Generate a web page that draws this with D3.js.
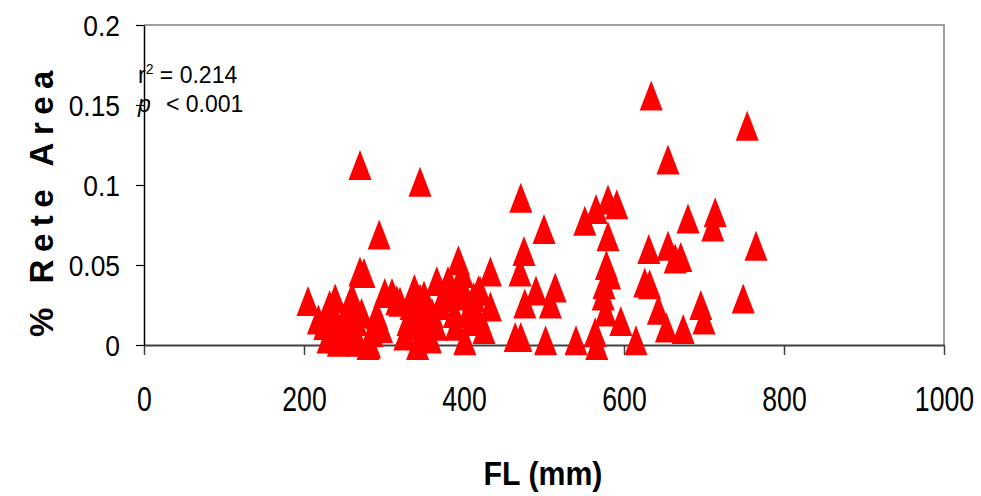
<!DOCTYPE html>
<html>
<head>
<script src="https://cdnjs.cloudflare.com/ajax/libs/d3/7.8.5/d3.min.js"></script>
<style>
  body { margin: 0; background: #fff; }
  svg { display: block; }
  .axis text { font-family: "Liberation Sans", Arial, sans-serif; fill: #000; }
</style>
</head>
<body>
<svg width="981" height="496"></svg>
<script>
// fork length (mm) and % rete area, one entry per fish
const flValues = [
  205, 218, 226, 230, 232, 235, 239, 243, 245, 250, 251, 255, 260, 262, 265, 268,
  270, 270, 272, 275, 280, 282, 285, 291, 294, 297, 301, 310, 316, 320, 326, 330,
  334, 338, 340, 342, 345, 345, 348, 350, 355, 358, 360, 365, 366, 370, 375, 380,
  385, 388, 390, 393, 395, 398, 401, 401, 405, 410, 412, 415, 418, 420, 425, 433,
  433, 464, 470, 471, 471, 475, 476, 490, 500, 502, 508, 514, 540, 551, 564, 565,
  566, 574, 575, 577, 578, 580, 580, 582, 591, 596, 615, 626, 631, 632, 634, 643,
  653, 655, 655, 664, 671, 674, 680, 696, 700, 711, 714, 749, 754, 765
];
const reteValues = [
  0.0275, 0.016, 0.0125, 0.004, 0.025, 0.018, 0.029, 0.002, 0.010, 0.005, 0.0145, 0.023, 0.030, 0.004, 0.015, 0.002,
  0.046, 0.1125, 0.020, 0.045, 0.000, 0.001, 0.008, 0.019, 0.069, 0.0105, 0.0325, 0.0325, 0.028, 0.027, 0.006, 0.015,
  0.025, 0.035, 0.012, 0.000, 0.102, 0.029, 0.018, 0.031, 0.0075, 0.004, 0.020, 0.012, 0.040, 0.025, 0.030, 0.040,
  0.035, 0.020, 0.012, 0.053, 0.040, 0.045, 0.031, 0.003, 0.020, 0.015, 0.030, 0.020, 0.034, 0.034, 0.010, 0.046,
  0.024, 0.005, 0.046, 0.092, 0.005, 0.0588, 0.026, 0.034, 0.0725, 0.003, 0.026, 0.036, 0.003, 0.0776, 0.008, 0.085,
  0.000, 0.031, 0.038, 0.021, 0.050, 0.091, 0.068, 0.044, 0.088, 0.015, 0.003, 0.039, 0.060, 0.038, 0.156, 0.022,
  0.011, 0.116, 0.062, 0.054, 0.055, 0.010, 0.079, 0.025, 0.016, 0.074, 0.083, 0.029, 0.137, 0.062
];

const xTicks = [0, 200, 400, 600, 800, 1000];
const yTicks = [0, 0.05, 0.1, 0.15, 0.2];
const yTickLabels = ["0", "0.05", "0.1", "0.15", "0.2"];

const svg = d3.select("svg");
const plotLeft = 144, plotRight = 944, plotTop = 25, plotBottom = 345;

const x = d3.scaleLinear().domain([0, 1000]).range([plotLeft, plotRight]);
const y = d3.scaleLinear().domain([0, 0.2]).range([plotBottom, plotTop]);

// plot frame (top & right)
svg.append("path")
    .attr("d", `M${plotLeft},${plotTop}H${plotRight}V${plotBottom}`)
    .attr("fill", "none")
    .attr("stroke", "#808080")
    .attr("stroke-width", 1.5);

// x axis - labels are a condensed face, so squeeze them horizontally
const xAxis = svg.append("g")
    .attr("class", "axis")
    .attr("transform", `translate(0,${plotBottom})`)
    .call(d3.axisBottom(x).tickValues(xTicks).tickSize(10).tickSizeOuter(0).tickFormat(d3.format("d")));
xAxis.select(".domain").attr("stroke", "#404040").attr("stroke-width", 2);
xAxis.selectAll(".tick line").attr("stroke", "#404040").attr("stroke-width", 1.5);
xAxis.selectAll(".tick text")
    .attr("font-size", 36)
    .attr("y", 66).attr("dy", 0)
    .attr("transform", "scale(0.74,1)");

// y axis
const yAxis = svg.append("g")
    .attr("class", "axis")
    .attr("transform", `translate(${plotLeft},0)`)
    .call(d3.axisLeft(y).tickValues(yTicks).tickSize(8).tickPadding(16).tickSizeOuter(0)
        .tickFormat((d, i) => yTickLabels[i]));
yAxis.select(".domain").attr("stroke", "#000").attr("stroke-width", 1.5);
yAxis.selectAll(".tick line").attr("stroke", "#000").attr("stroke-width", 1.2);
yAxis.selectAll(".tick text")
    .attr("font-size", 30)
    .attr("x", -24 / 0.88)
    .attr("dy", "0.36em")
    .attr("transform", "scale(0.88,1)");

// triangle markers
const tw = 11.5, th = 15;
svg.append("g")
    .selectAll("path")
    .data(flValues.map((d, i) => [d, reteValues[i]]))
    .join("path")
    .attr("d", d => {
        const cx = x(d[0]), cy = y(d[1]);
        return `M${cx},${cy - th}L${cx + tw},${cy + th}L${cx - tw},${cy + th}Z`;
    })
    .attr("fill", "#ff0000");

// stats annotation
const ann = svg.append("g")
    .attr("font-family", "'Liberation Sans', Arial, sans-serif")
    .attr("font-size", 23);
const r2 = ann.append("text").attr("x", 138).attr("y", 83);
r2.append("tspan").text("r");
r2.append("tspan").attr("font-size", 14).attr("dy", -9).text("2");
r2.append("tspan").attr("dy", 9).text(" = 0.214");
const pt = ann.append("text").attr("y", 112);
pt.append("tspan").attr("x", 138).attr("font-style", "italic").text("p");
pt.append("tspan").attr("x", 166).text("< 0.001");

// axis titles
svg.append("text")
    .attr("transform", "translate(53,200) rotate(-90)")
    .attr("text-anchor", "middle")
    .attr("font-family", "'Liberation Sans', Arial, sans-serif")
    .attr("font-weight", "bold")
    .attr("font-size", 33)
    .attr("letter-spacing", 7.5)
    .text("% Rete Area");

svg.append("text")
    .attr("transform", "translate(543,485) scale(0.89,1)")
    .attr("text-anchor", "middle")
    .attr("font-family", "'Liberation Sans', Arial, sans-serif")
    .attr("font-weight", "bold")
    .attr("font-size", 34)
    .text("FL (mm)");
</script>
</body>
</html>
